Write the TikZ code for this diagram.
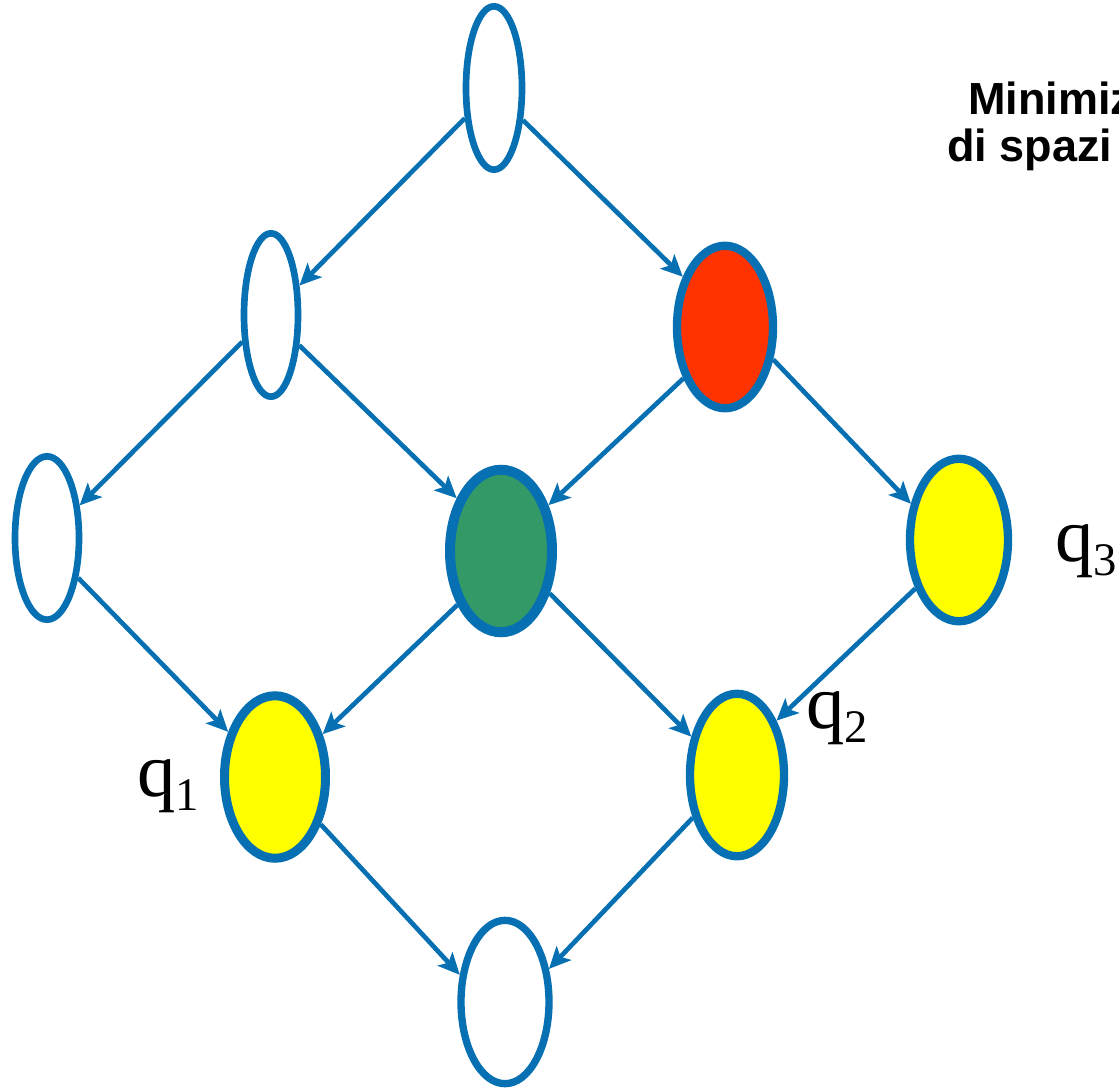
\documentclass[tikz,border=0pt]{standalone}
\usepackage{fontspec}
\usetikzlibrary{arrows.meta,shapes}
\newfontfamily\qfont{Liberation Serif}
\newfontfamily\titlefont{Liberation Sans}
\definecolor{latblue}{RGB}{6,112,178}
\definecolor{topred}{RGB}{255,51,0}
\definecolor{meetgreen}{RGB}{51,153,102}
\definecolor{queryyellow}{RGB}{255,255,0}
\tikzstyle{emptystate} = [ellipse, draw=latblue, line width=4pt, inner sep=0pt, minimum height=98pt]
\tikzstyle{fullstate} = [ellipse, draw=latblue, line width=5pt, inner sep=0pt, minimum height=97.5pt]
\tikzstyle{link} = [->, draw=latblue, line width=2.8pt]
\tikzstyle{qlabel} = [inner sep=0pt, anchor=base west, font=\qfont\fontsize{46}{50}\selectfont]
\tikzstyle{titletext} = [inner sep=0pt, anchor=base west, font=\titlefont\bfseries\fontsize{27}{32}\selectfont]
\newcommand{\qsub}[1]{q\raisebox{-8.4pt}{\fontsize{28}{30}\selectfont #1}}

\begin{document}
\begin{tikzpicture}[x=0.6pt, y=-0.6pt, >={Stealth[length=13pt,width=12pt,inset=3pt]}]
   \useasboundingbox (0,0) rectangle (1119,1088);
   % nodes
   \node[emptystate, minimum width=33.6pt] (a) at (494,88) {};
   \node[emptystate, minimum width=32.4pt] (b) at (271,315) {};
   \node[fullstate, fill=topred, minimum width=57.6pt] (c) at (725,327) {};
   \node[emptystate, minimum width=38.4pt] (d) at (47,538) {};
   \node[fullstate, fill=meetgreen, line width=6pt, minimum width=61.2pt] (e) at (501,551) {};
   \node[fullstate, fill=queryyellow, minimum width=58.8pt] (f) at (959,540) {};
   \node[fullstate, fill=queryyellow, line width=5.4pt, minimum width=60.6pt] (g) at (275,777) {};
   \node[fullstate, fill=queryyellow, minimum width=56.4pt] (h) at (737,775) {};
   \node[emptystate, line width=4.4pt, minimum width=52.8pt] (i) at (505,1002) {};

   % labels
   \node[qlabel] (q1) at (137,796) {\qsub{1}};
   \node[qlabel] (q2) at (806,728) {\qsub{2}};
   \node[qlabel] (q3) at (1055,561) {\qsub{3}};
   \node[titletext] (t1) at (968,114) {Minimiz};
   \node[titletext] (t2) at (947,161) {di spazi};

   % edges
   \draw[link] (a.226) -- (b.46);
   \draw[link] (a.312) -- (c.130);
   \draw[link] (b.223) -- (d.45);
   \draw[link] (b.313) -- (e.130);
   \draw[link] (c.231) -- (e.44);
   \draw[link] (c.-34) -- (f.143);
   \draw[link] (d.-52) -- (g.136);
   \draw[link] (e.231) -- (g.42);
   \draw[link] (e.-41) -- (h.140);
   \draw[link] (f.228) -- (h.54);
   \draw[link] (g.-46) -- (i.149);
   \draw[link] (h.224) -- (i.37);
\end{tikzpicture}
\end{document}
